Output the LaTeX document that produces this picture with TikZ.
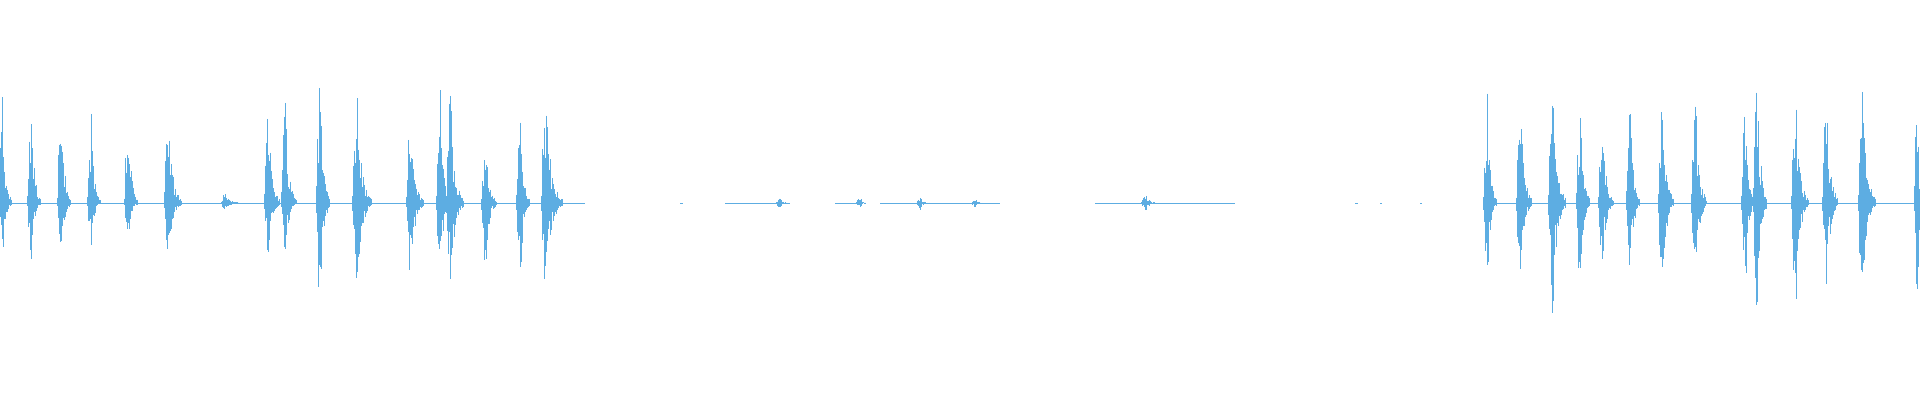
\documentclass[tikz,border=0pt]{standalone}
\definecolor{wave}{RGB}{93,173,226}
\begin{document}
\begin{tikzpicture}[x=1pt,y=-1pt,wv/.style={draw=wave,line width=0.6pt}]
\pgfmathsetseed{7}
\useasboundingbox (0,0) rectangle (1920,400);
\newcommand{\burst}[4]{%
 \foreach \i in {-4,-3.2,...,#4}{%
  \pgfmathsetmacro\e{(\i<0)?(1+\i/4.5):(exp(-\i/(#4/3.5)))}%
  \pgfmathsetmacro\ya{203-(203-#2)*\e*(0.35+0.65*rnd)}%
  \pgfmathsetmacro\yb{203+(#3-203)*\e*(0.35+0.65*rnd)}%
  \draw[wv] (#1+\i,\ya) -- (#1+\i,\yb);}}
\draw[wave,line width=0.8pt] (0,203) -- (585,203);
\draw[wave,line width=0.8pt] (1485,203) -- (1920,203);
\foreach \a/\b in {680/683,725/790,835/860,880/1000,1095/1235,1355/1358,1380/1382,1420/1422}
  \draw[wave,line width=0.6pt] (\a,203) -- (\b,203);
\burst{780}{196}{209}{8}
\burst{860}{197}{208}{6}
\burst{920}{197}{210}{10}
\burst{975}{198}{208}{8}
\burst{1145}{193}{212}{12}
\burst{2}{92}{262}{10}
\burst{31}{95}{260}{10}
\burst{61}{91}{265}{10}
\burst{91}{103}{250}{9}
\burst{128}{100}{240}{10}
\burst{168}{93}{262}{14}
\burst{225}{190}{212}{15}
\burst{268}{95}{262}{12}
\burst{285}{90}{265}{12}
\burst{320}{45}{345}{10}
\burst{356}{75}{310}{16}
\burst{410}{97}{285}{14}
\burst{440}{85}{290}{10}
\burst{450}{80}{300}{14}
\burst{485}{130}{280}{12}
\burst{520}{105}{295}{10}
\burst{545}{80}{300}{18}
\burst{1487}{90}{290}{10}
\burst{1520}{75}{300}{12}
\burst{1552}{57}{330}{14}
\burst{1580}{80}{305}{10}
\burst{1602}{110}{280}{12}
\burst{1630}{90}{285}{10}
\burst{1662}{80}{300}{12}
\burst{1695}{80}{300}{12}
\burst{1745}{85}{300}{10}
\burst{1757}{48}{340}{10}
\burst{1795}{85}{320}{14}
\burst{1826}{70}{305}{12}
\burst{1862}{75}{310}{14}
\burst{1918}{50}{345}{2}
\end{tikzpicture}
\end{document}
